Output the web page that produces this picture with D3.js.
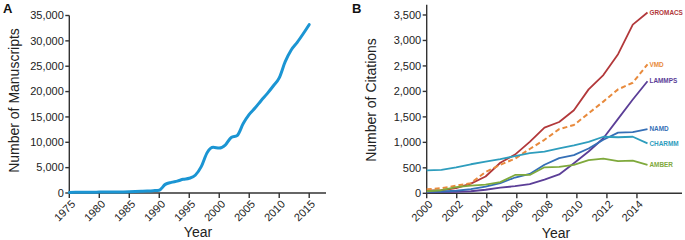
<!DOCTYPE html>
<html>
<head>
<meta charset="utf-8">
<script src="https://cdn.jsdelivr.net/npm/d3@7"></script>
<style>
  body { margin: 0; background: #fff; }
  svg { display: block; font-family: "Liberation Sans", Arial, sans-serif; }
</style>
</head>
<body>
<div id="chart"></div>
<script>
// Panel A: manuscripts per year
const msYears = d3.range(1975, 2016);
const msCounts = [
  120, 130, 140, 150, 160, 180, 190, 200, 210, 220,
  240, 280, 330, 380, 450, 560, 1700, 2100, 2350, 2700,
  2900, 3500, 5200, 8000, 9000, 8850, 9450, 10950, 11350, 13700,
  15500, 16800, 18250, 19600, 21100, 22700, 25900, 28200, 29700, 31400,
  33200
];
const msYTicks = d3.range(0, 35001, 5000);
const msXTicks = d3.range(1975, 2016, 5);

// Panel B: citations per package
const citYears = d3.range(2000, 2016);
const packages = ['GROMACS', 'VMD', 'LAMMPS', 'NAMD', 'CHARMM', 'AMBER'];
const gromacs = [50, 60, 100, 190, 330, 600, 760, 1010, 1290, 1400, 1630, 2040, 2320, 2730, 3310, 3550];
const vmd     = [80, 100, 150, 200, 420, 560, 680, 870, 1050, 1260, 1340, 1570, 1800, 2040, 2170, 2530];
const lammps  = [20, 25, 30, 40, 70, 110, 140, 180, 270, 370, 590, 820, 1080, 1460, 1840, 2200];
const namd    = [30, 35, 50, 80, 130, 200, 310, 380, 560, 690, 750, 880, 1050, 1190, 1200, 1260];
const charmm  = [450, 460, 510, 570, 620, 670, 730, 790, 820, 880, 940, 1010, 1110, 1100, 1110, 980];
const amber   = [40, 60, 120, 150, 170, 220, 360, 360, 510, 520, 560, 650, 680, 630, 640, 560];
const citYTicks = d3.range(0, 3501, 500);
const citXTicks = d3.range(2000, 2015, 2);

const colors = {
  GROMACS: '#b2383a', VMD: '#e88a3c', LAMMPS: '#5b3e97',
  NAMD: '#356fb6', CHARMM: '#2e9dbd', AMBER: '#7fa93c'
};
const seriesData = { GROMACS: gromacs, VMD: vmd, LAMMPS: lammps, NAMD: namd, CHARMM: charmm, AMBER: amber };

const width = 685, height = 240;
const svg = d3.select('#chart').append('svg')
  .attr('width', width).attr('height', height);

const axisColor = '#333';
const textColor = '#222';

function drawAxes(x, y, xTicks, yTicks, xFmt) {
  const g = svg.append('g');
  const [y0, y1] = y.range();
  const [x0, x1] = x.range();

  // y axis
  g.append('line').attr('x1', x0).attr('x2', x0).attr('y1', y0).attr('y2', y1)
    .attr('stroke', axisColor).attr('stroke-width', 1.4);
  yTicks.forEach(t => {
    g.append('line').attr('x1', x0 - 4).attr('x2', x0).attr('y1', y(t)).attr('y2', y(t))
      .attr('stroke', axisColor).attr('stroke-width', 1.4);
    g.append('text').attr('x', x0 - 5.5).attr('y', y(t)).attr('dy', '0.35em')
      .attr('text-anchor', 'end').style('font-size', '11px').style('fill', textColor)
      .text(d3.format(',')(t));
  });

  // x axis
  g.append('line').attr('x1', x0).attr('x2', x1).attr('y1', y0).attr('y2', y0)
    .attr('stroke', axisColor).attr('stroke-width', 1.4);
  xTicks.forEach(t => {
    g.append('line').attr('x1', x(t)).attr('x2', x(t)).attr('y1', y0).attr('y2', y0 + 5)
      .attr('stroke', axisColor).attr('stroke-width', 1.4);
    g.append('text')
      .attr('transform', `translate(${x(t) + 4},${y0 + 9}) rotate(-45)`)
      .attr('dy', '0.35em')
      .attr('text-anchor', 'end').style('font-size', '11px').style('fill', textColor)
      .text(xFmt(t));
  });
}

// ---- Panel A ----
const xA = d3.scaleLinear().domain([1975, 2017.8]).range([69.3, 326]);
const yA = d3.scaleLinear().domain([0, 35000]).range([193, 15.5]);
drawAxes(xA, yA, msXTicks, msYTicks, d => String(d));

svg.append('path')
  .datum(msYears.map((yr, i) => [yr, msCounts[i]]))
  .attr('fill', 'none').attr('stroke', '#1b95d3').attr('stroke-width', 3)
  .attr('stroke-linejoin', 'round').attr('stroke-linecap', 'round')
  .attr('d', d3.line().x(d => xA(d[0])).y(d => yA(d[1])).curve(d3.curveMonotoneX));

svg.append('text').attr('x', 198).attr('y', 236.5).attr('text-anchor', 'middle')
  .style('font-size', '14px').style('fill', textColor).text('Year');
svg.append('text').attr('transform', 'translate(18.5,100.5) rotate(-90)').attr('text-anchor', 'middle')
  .style('font-size', '14px').style('fill', textColor).text('Number of Manuscripts');
svg.append('text').attr('x', 3).attr('y', 13).style('font-size', '13px').style('font-weight', 'bold')
  .style('fill', '#111').text('A');

// ---- Panel B ----
const xB = d3.scaleLinear().domain([2000, 2017]).range([426.7, 682]);
// the plotted points sit slightly tighter than the tick spacing in the source figure
const xBData = d3.scaleLinear().domain([2000, 2015]).range([426.7, 647.5]);
const yB = d3.scaleLinear().domain([0, 3700]).range([193.3, 4.8]);
drawAxes(xB, yB, citXTicks, citYTicks, d => String(d));

const lineB = d3.line().x(d => xBData(d[0])).y(d => yB(d[1]));
packages.forEach(name => {
  const pts = citYears.map((yr, i) => [yr, seriesData[name][i]]);
  svg.append('path').datum(pts)
    .attr('fill', 'none').attr('stroke', colors[name])
    .attr('stroke-width', name === 'VMD' ? 2 : 1.8)
    .attr('stroke-dasharray', name === 'VMD' ? '5,3' : null)
    .attr('stroke-linejoin', 'round')
    .attr('d', lineB);
  const last = pts[pts.length - 1];
  svg.append('text').attr('x', xBData(last[0]) + 2).attr('y', yB(last[1])).attr('dy', '0.35em')
    .style('font-size', '6.4px').style('font-weight', 'bold').style('fill', colors[name])
    .text(name);
});

svg.append('text').attr('x', 556).attr('y', 237.5).attr('text-anchor', 'middle')
  .style('font-size', '14px').style('fill', textColor).text('Year');
svg.append('text').attr('transform', 'translate(376,100) rotate(-90)').attr('text-anchor', 'middle')
  .style('font-size', '14px').style('fill', textColor).text('Number of Citations');
svg.append('text').attr('x', 352).attr('y', 13).style('font-size', '13px').style('font-weight', 'bold')
  .style('fill', '#111').text('B');
</script>
</body>
</html>
